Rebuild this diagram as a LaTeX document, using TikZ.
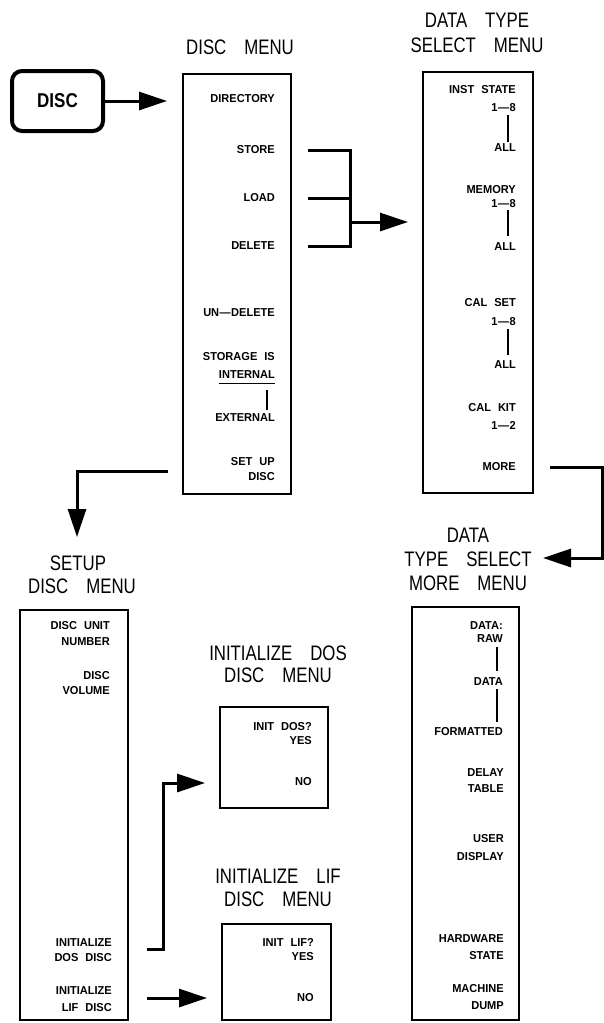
\documentclass[tikz,border=0pt]{standalone}
\usepackage{fontspec}
\newfontfamily\itemfam{Liberation Sans}[FakeStretch=0.96]
\newfontfamily\keyfam{Liberation Sans}[FakeStretch=0.85]
\newfontfamily\headfam{Liberation Sans}[FakeStretch=0.8]
\usetikzlibrary{arrows.meta}
\newcommand\hgap{\hspace{18pt}}
\newcommand\igap{\hspace{7pt}}
\newcommand\ldash{\kern0.5pt—\kern0.5pt}
\begin{document}
\begin{tikzpicture}[x=1pt,y=-1pt,
  menubox/.style={draw, line width=1.3pt, inner sep=0pt},
  keybox/.style={draw, line width=4pt, rounded corners=10pt, inner sep=0pt,
     font=\keyfam\bfseries\fontsize{20}{22}\selectfont},
  item/.style={font=\itemfam\bfseries\fontsize{11.5}{13}\selectfont, anchor=east, inner sep=0pt},
  head/.style={font=\headfam\fontsize{21}{24}\selectfont, inner sep=0pt},
  conn/.style={line width=3pt},
  arr/.style={conn, -{Triangle[length=28pt,width=18pt]}},
  bar/.style={line width=2pt}]
\useasboundingbox (0,0) rectangle (604,1023);

% ---------- boxes ----------
\node[keybox, minimum width=91pt, minimum height=60pt] (key) at (57.5,101) {DISC};
\node[menubox, minimum width=108pt, minimum height=420pt] (dm) at (237,284) {};
\node[menubox, minimum width=110pt, minimum height=421pt] (dt) at (478,282.5) {};
\node[menubox, minimum width=107pt, minimum height=413pt] (mm) at (465.5,813.5) {};
\node[menubox, minimum width=108pt, minimum height=410pt] (sm) at (74,815) {};
\node[menubox, minimum width=108pt, minimum height=101pt] (dos) at (274,757.5) {};
\node[menubox, minimum width=109pt, minimum height=96pt] (lif) at (276.5,972) {};

% ---------- headings ----------
\node[head] (hdm) at (240,47) {DISC\hgap MENU};
\node[head] (hdt1) at (477,20) {DATA\hgap TYPE};
\node[head] (hdt2) at (477,45) {SELECT\hgap MENU};
\node[head] (hsm1) at (78,563) {SETUP};
\node[head] (hsm2) at (82,586) {DISC\hgap MENU};
\node[head] (hdos1) at (278,653) {INITIALIZE\hgap DOS};
\node[head] (hdos2) at (278,675) {DISC\hgap MENU};
\node[head] (hlif1) at (278,876) {INITIALIZE\hgap LIF};
\node[head] (hlif2) at (278,899) {DISC\hgap MENU};
\node[head] (hmm1) at (468,535) {DATA};
\node[head] (hmm2) at (468,559) {TYPE\hgap SELECT};
\node[head] (hmm3) at (468,583) {MORE\hgap MENU};

% ---------- disc menu ----------
\node[item] (dir) at (275,99) {DIRECTORY};
\node[item] (store) at (275,150) {STORE};
\node[item] (load) at (275,198) {LOAD};
\node[item] (del) at (275,246) {DELETE};
\node[item] (undel) at (275,313) {UN\ldash DELETE};
\node[item] (stis) at (275,357) {STORAGE\igap IS};
\node[item] (intl) at (275,375) {INTERNAL};
\draw[line width=1.3pt] ([yshift=-4.5pt]intl.south west) -- ([yshift=-4.5pt]intl.south east);
\draw[bar] (267,390) -- (267,410);
\node[item] (extl) at (275,418) {EXTERNAL};
\node[item] (setup) at (275,462) {SET\igap UP};
\node[item] (setup2) at (275,477) {DISC};

% ---------- data type select menu ----------
\node[item] (inst) at (516,90) {INST\igap STATE};
\node[item] (inst2) at (516,108) {1\ldash 8};
\draw[bar] (508,115) -- (508,142);
\node[item] (inst3) at (516,148) {ALL};
\node[item] (mem) at (516,190) {MEMORY};
\node[item] (mem2) at (516,204) {1\ldash 8};
\draw[bar] (508,210) -- (508,236);
\node[item] (mem3) at (516,247) {ALL};
\node[item] (cal) at (516,303) {CAL\igap SET};
\node[item] (cal2) at (516,322) {1\ldash 8};
\draw[bar] (508,329) -- (508,355);
\node[item] (cal3) at (516,365) {ALL};
\node[item] (kit) at (516,408) {CAL\igap KIT};
\node[item] (kit2) at (516,425) {1\ldash 2};
\node[item] (more) at (516,467) {MORE};

% ---------- more menu ----------
\node[item] (raw1) at (503,626) {DATA:};
\node[item] (raw2) at (503,639) {RAW};
\draw[bar] (497,647) -- (497,671);
\node[item] (raw3) at (503,682) {DATA};
\draw[bar] (497,689) -- (497,722);
\node[item] (raw4) at (503,732) {FORMATTED};
\node[item] (dly1) at (504,773) {DELAY};
\node[item] (dly2) at (504,789) {TABLE};
\node[item] (usr1) at (504,839) {USER};
\node[item] (usr2) at (504,857) {DISPLAY};
\node[item] (hw1) at (504,939) {HARDWARE};
\node[item] (hw2) at (504,956) {STATE};
\node[item] (md1) at (504,989) {MACHINE};
\node[item] (md2) at (504,1006) {DUMP};

% ---------- setup menu ----------
\node[item] (unit1) at (110,626) {DISC\igap UNIT};
\node[item] (unit2) at (110,642) {NUMBER};
\node[item] (vol1) at (110,676) {DISC};
\node[item] (vol2) at (110,691) {VOLUME};
\node[item] (idos1) at (112,943) {INITIALIZE};
\node[item] (idos2) at (112,958) {DOS\igap DISC};
\node[item] (ilif1) at (112,991) {INITIALIZE};
\node[item] (ilif2) at (112,1008) {LIF\igap DISC};

% ---------- init menus ----------
\node[item] (dq) at (312,727) {INIT\igap DOS?};
\node[item] (dy) at (312,741) {YES};
\node[item] (dn) at (312,782) {NO};
\node[item] (lq) at (314,942) {INIT\igap LIF?};
\node[item] (ly) at (314,957) {YES};
\node[item] (ln) at (314,998) {NO};

% ---------- connectors ----------
\coordinate (keytip) at (167,101);
\draw[arr] (key.east) -- (keytip);

\coordinate (stO) at (308,150);
\coordinate (ldO) at (308,198);
\coordinate (dlO) at (308,246);
\coordinate (brT) at (350,150);
\coordinate (brM) at (350,198);
\coordinate (brB) at (350,246);
\coordinate (brA) at (350,222);
\coordinate (dttip) at (408,222);
\draw[conn] (stO) -- (brT) -- (brB) -- (dlO);
\draw[conn] (ldO) -- (brM);
\draw[arr] (brA) -- (dttip);

\coordinate (moreO) at (550,467);
\coordinate (moreC1) at (602,467);
\coordinate (moreC2) at (602,558);
\coordinate (mmtip) at (543,558);
\draw[arr] (moreO) -- (moreC1) -- (moreC2) -- (mmtip);

\coordinate (suO) at (168,471);
\coordinate (suC) at (77,471);
\coordinate (smtip) at (77,537);
\draw[arr] (suO) -- (suC) -- (smtip);

\coordinate (dosO) at (147,949);
\coordinate (dosC1) at (163,949);
\coordinate (dosC2) at (163,783);
\coordinate (dostip) at (205,783);
\draw[arr] (dosO) -- (dosC1) -- (dosC2) -- (dostip);

\coordinate (lifO) at (147,998);
\coordinate (liftip) at (207,998);
\draw[arr] (lifO) -- (liftip);
\end{tikzpicture}
\end{document}
